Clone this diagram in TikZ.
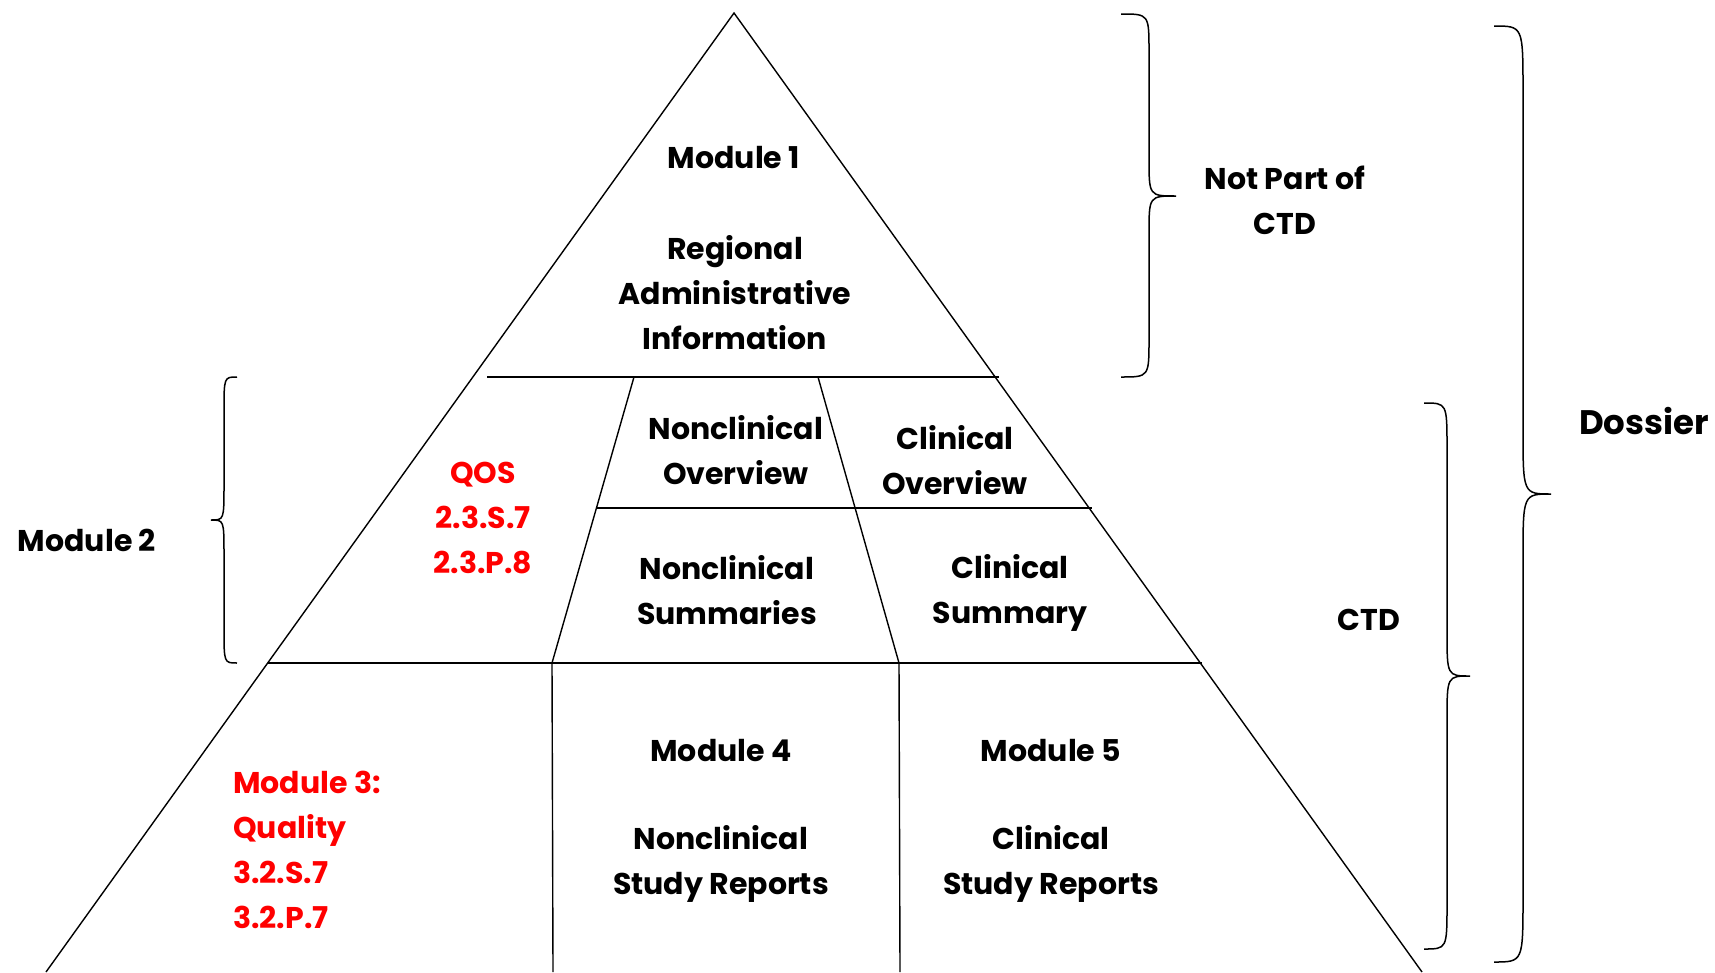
\documentclass[tikz,border=0pt]{standalone}
\usepackage{fontspec}
\setmainfont{Poppins}
\begin{document}
\begin{tikzpicture}[x=1pt,y=-1pt,
  rule/.style={line width=1.4pt,black},
  bracepath/.style={line width=1.5pt,black},
  lbl/.style={inner sep=0pt,align=center,font=\fontsize{30}{45}\selectfont\bfseries},
  redlbl/.style={lbl,text=qred},
]
\definecolor{qred}{RGB}{255,0,0}
\useasboundingbox (0,0) rectangle (1715,972);

% pyramid outline
\coordinate (apex) at (734,13);
\coordinate (bl) at (46,972);
\coordinate (br) at (1422,972);
\draw[rule] (bl) -- (apex) -- (br);

% horizontal tiers
\draw[rule] (487,377) -- (999,377);
\draw[rule] (596,508) -- (1092,508);
\draw[rule] (268,663) -- (1202,663);

% column dividers
\draw[rule] (634,377) -- (552,663) -- (553,972);
\draw[rule] (818,377) -- (899,663) -- (900,972);

% curly braces: end x, spine x, tip x, top y, tip y, bottom y, curl
\newcommand{\curlybrace}[7]{%
  \draw[bracepath] (#1,#4) .. controls (#2,#4) .. (#2,#4+#7)
    -- (#2,#5-#7) .. controls (#2,#5) .. (#3,#5)
    .. controls (#2,#5) .. (#2,#5+#7)
    -- (#2,#6-#7) .. controls (#2,#6) .. (#1,#6);}
\curlybrace{1121}{1149}{1176}{14}{196}{377}{38}
\curlybrace{1424}{1447}{1470}{403}{676}{949}{45}
\curlybrace{1494}{1523}{1551}{26}{494}{962}{65}
\curlybrace{237}{224}{211}{377}{520}{663}{35}

% module 1
\node[lbl] (m1) at (734,158) {Module 1};
\node[lbl] (m1txt) at (735,293) {Regional\\Administrative\\Information};

% module 2
\node[lbl] (nco) at (736,450) {Nonclinical\\Overview};
\node[lbl] (cov) at (955,460) {Clinical\\Overview};
\node[redlbl] (qos) at (483,518) {QOS\\2.3.S.7\\2.3.P.8};
\node[lbl] (ncs) at (727,590) {Nonclinical\\Summaries};
\node[lbl] (csu) at (1010,593) {Clinical\\Summary};

% modules 3--5
\node[redlbl,align=left,anchor=west] (m3) at (233,850) {Module 3:\\Quality\\3.2.S.7\\3.2.P.7};
\node[lbl] (m4) at (721,751) {Module 4};
\node[lbl] (m4txt) at (721,864) {Nonclinical\\Study Reports};
\node[lbl] (m5) at (1051,751) {Module 5};
\node[lbl] (m5txt) at (1051,864) {Clinical\\Study Reports};

% brace labels
\node[lbl] (mod2) at (87,540) {Module 2};
\node[lbl] (notctd) at (1285,200) {Not Part of\\CTD};
\node[lbl] (ctd) at (1369,620) {CTD};
\node[lbl,font=\fontsize{34}{45}\selectfont\bfseries] (dossier) at (1644,421) {Dossier};
\end{tikzpicture}
\end{document}
